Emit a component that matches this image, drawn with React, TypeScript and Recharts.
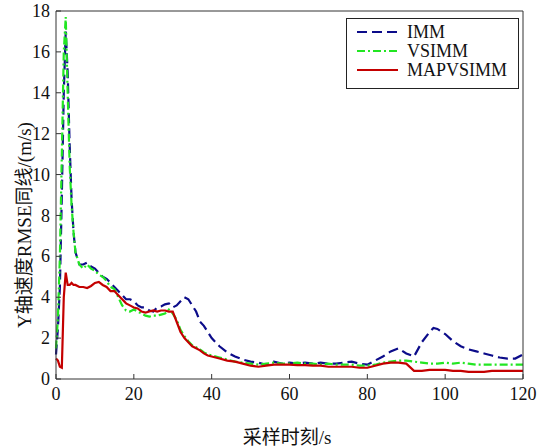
import { Line, LineChart, XAxis, YAxis } from "recharts";

// sampling instants (s)
const time = [
  0, 0.5, 1, 1.5, 2, 2.5, 3, 3.5, 4, 4.5,
  5, 6, 7, 8, 9, 10, 11, 12, 13, 14, 15, 16, 17, 18, 19, 20,
  21, 22, 23, 24, 25, 26, 27, 28, 29, 30, 31, 32, 33, 34, 35,
  36, 37, 38, 39, 40,
  42, 44, 46, 48, 50, 52, 54, 56, 58, 60, 62, 64, 66, 68, 70,
  72, 74, 76, 78, 80, 82, 84, 86, 88, 90, 92, 94, 96, 97, 98,
  100, 102, 104, 106, 108, 110, 112, 114, 116, 118, 120,
];

const imm = [
  1.2, 2.5, 4.5, 9, 14, 17, 15, 11.5, 8.8, 7.2,
  6.2, 5.6, 5.6, 5.7, 5.5, 5.4, 5.2, 5.0, 4.9, 4.7, 4.5, 4.3, 4.1, 3.9, 3.9, 3.8,
  3.6, 3.5, 3.5, 3.35, 3.3, 3.5, 3.55, 3.65, 3.7, 3.5, 3.6, 3.8, 4.0, 3.9, 3.6,
  3.3, 2.8, 2.6, 2.3, 2.0,
  1.6, 1.3, 1.1, 0.95, 0.85, 0.8, 0.7, 0.85, 0.75, 0.8, 0.75, 0.8, 0.75, 0.8, 0.75,
  0.75, 0.8, 0.85, 0.75, 0.7, 0.9, 1.1, 1.35, 1.5, 1.25, 1.1, 1.8, 2.3, 2.5, 2.45,
  2.2, 1.85, 1.6, 1.45, 1.35, 1.25, 1.15, 1.05, 1.0, 1.0, 1.2,
];

const vsimm = [
  1.5, 3.0, 6.0, 11, 16, 17.7, 14, 10.5, 8.5, 7.2,
  6.2, 5.6, 5.4, 5.6, 5.4, 5.3, 5.1, 5.0, 4.8, 4.5, 4.4, 4.0, 3.6, 3.35, 3.3, 3.4,
  3.3, 3.2, 3.1, 3.05, 3.1, 3.1, 3.15, 3.2, 3.4, 3.2, 2.9, 2.4, 2.1, 1.85, 1.65,
  1.55, 1.45, 1.3, 1.2, 1.15,
  1.05, 0.95, 0.85, 0.8, 0.75, 0.7, 0.75, 0.8, 0.75, 0.75, 0.8, 0.75, 0.75, 0.7, 0.75,
  0.7, 0.7, 0.7, 0.65, 0.65, 0.7, 0.8, 0.85, 0.9, 0.9, 0.85, 0.8, 0.75, 0.75, 0.75,
  0.8, 0.75, 0.8, 0.75, 0.7, 0.7, 0.7, 0.7, 0.7, 0.7, 0.7,
];

const mapvsimm = [
  1.0, 0.9, 0.6, 0.55, 4.0, 5.2, 4.6, 4.6, 4.7, 4.6,
  4.6, 4.5, 4.5, 4.45, 4.55, 4.7, 4.75, 4.6, 4.5, 4.3, 4.3, 4.1, 3.9, 3.7, 3.6, 3.5,
  3.45, 3.3, 3.25, 3.3, 3.35, 3.3, 3.35, 3.35, 3.3, 3.3, 2.8, 2.3, 2.0, 1.8, 1.6,
  1.5, 1.4, 1.25, 1.15, 1.1,
  1.0, 0.9, 0.85, 0.75, 0.65, 0.6, 0.65, 0.7, 0.7, 0.7, 0.68, 0.68, 0.65, 0.65, 0.6,
  0.6, 0.6, 0.6, 0.55, 0.55, 0.65, 0.75, 0.8, 0.8, 0.75, 0.4, 0.4, 0.45, 0.45, 0.45,
  0.45, 0.4, 0.4, 0.35, 0.35, 0.35, 0.4, 0.4, 0.4, 0.4, 0.4,
];

const xTicks = [0, 20, 40, 60, 80, 100, 120];
const yTicks = [0, 2, 4, 6, 8, 10, 12, 14, 16, 18];

const series = [
  { key: "IMM", values: imm, color: "#0c0c8a", dash: "10 5" },
  { key: "VSIMM", values: vsimm, color: "#22e622", dash: "8 3 2 3" },
  { key: "MAPVSIMM", values: mapvsimm, color: "#c40000", dash: undefined },
];

const chartData = time.map((t, i) => ({
  t,
  IMM: imm[i],
  VSIMM: vsimm[i],
  MAPVSIMM: mapvsimm[i],
}));

const font = "'Liberation Serif', 'Noto Sans CJK SC', serif";

const XTick = ({ x, y, payload }: any) => (
  <text x={x} y={y} dy="0.72em" textAnchor="middle" fontFamily={font} fontSize={18} fill="#111">
    {payload.value}
  </text>
);

const YTick = ({ x, y, payload }: any) => (
  <text x={x} y={y} dy="0.34em" textAnchor="end" fontFamily={font} fontSize={18} fill="#111">
    {payload.value}
  </text>
);

function LegendBox() {
  return (
    <svg width={174} height={72} style={{ display: "block" }}>
      <rect x={0.5} y={0.5} width={172} height={70} fill="#fff" stroke="#222" strokeWidth={1} />
      {series.map((s, i) => (
        <g key={s.key}>
          <line
            x1={11}
            x2={52}
            y1={14 + i * 19}
            y2={14 + i * 19}
            stroke={s.color}
            strokeWidth={2.2}
            strokeDasharray={s.dash}
          />
          <text x={61} y={14 + i * 19} dy="0.35em" fontSize={18} fill="#111" fontFamily={font}>
            {s.key}
          </text>
        </g>
      ))}
    </svg>
  );
}

export default function App() {
  return (
    <div
      style={{
        position: "absolute",
        left: 0,
        top: 0,
        width: 552,
        height: 448,
        background: "#fff",
      }}
    >
      <LineChart
        width={552}
        height={448}
        data={chartData}
        margin={{ top: 10, right: 28, left: 0, bottom: 0 }}
      >
        <XAxis
          dataKey="t"
          type="number"
          domain={[0, 120]}
          ticks={xTicks}
          height={69}
          tickSize={-5}
          tickMargin={13}
          stroke="#333"
          tick={<XTick />}
          label={{
            content: () => (
              <text x={287} y={437} textAnchor="middle" dominantBaseline="central" fontSize={19} fill="#111" fontFamily={font}>
                采样时刻/s
              </text>
            ),
          }}
        />
        <XAxis
          xAxisId="top"
          orientation="top"
          dataKey="t"
          type="number"
          domain={[0, 120]}
          ticks={xTicks}
          height={1}
          tickSize={-5}
          tick={false}
          stroke="#333"
        />
        <YAxis
          type="number"
          domain={[0, 18]}
          ticks={yTicks}
          width={56}
          tickSize={-5}
          tickMargin={11}
          stroke="#333"
          tick={<YTick />}
          label={{
            content: () => (
              <text
                x={24}
                y={225}
                transform="rotate(-90 24 225)"
                textAnchor="middle"
                dominantBaseline="central"
                fontSize={19}
                fill="#111"
                fontFamily={font}
              >
                Y轴速度RMSE同线/(m/s)
              </text>
            ),
          }}
        />
        <YAxis
          yAxisId="right"
          orientation="right"
          type="number"
          domain={[0, 18]}
          ticks={yTicks}
          width={1}
          tickSize={-5}
          tick={false}
          stroke="#333"
        />
        {series.map((s) => (
          <Line
            key={s.key}
            dataKey={s.key}
            type="linear"
            stroke={s.color}
            strokeWidth={2.2}
            strokeDasharray={s.dash}
            dot={false}
            activeDot={false}
            isAnimationActive={false}
          />
        ))}
      </LineChart>
      <div style={{ position: "absolute", left: 346, top: 18 }}>
        <LegendBox />
      </div>
    </div>
  );
}
